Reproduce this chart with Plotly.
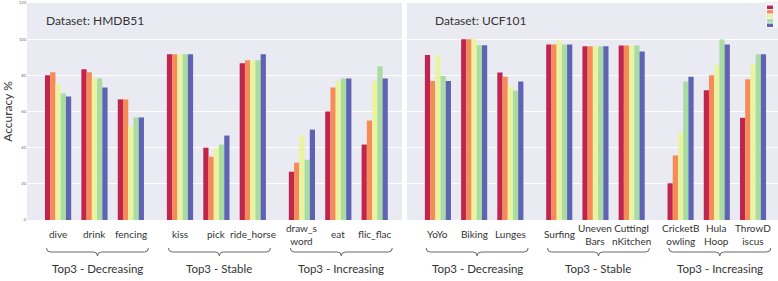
import plotly.graph_objects as go

# ---------------- data ----------------
series_names = ["Model A", "Model B", "Model C", "Model D", "Model E"]
colors = ["#c0254d", "#f68b57", "#eaf4a0", "#a9dca3", "#5e64b1"]

group_names = ["Top3 - Decreasing", "Top3 - Stable", "Top3 - Increasing"]

hmdb_categories = ["dive", "drink", "fencing", "kiss", "pick", "ride_horse",
                   "draw_sword", "eat", "flic_flac"]
hmdb_labels = ["dive", "drink", "fencing", "kiss", "pick", "ride_horse",
               "draw_s<br>word", "eat", "flic_flac"]
hmdb_s1 = [80.0, 83.3, 66.7, 91.7, 40.0, 86.7, 26.7, 60.0, 41.7]
hmdb_s2 = [81.7, 81.7, 66.7, 91.7, 35.0, 88.3, 31.7, 73.3, 55.0]
hmdb_s3 = [75.0, 78.3, 51.7, 91.7, 40.0, 88.3, 46.7, 76.7, 76.7]
hmdb_s4 = [70.0, 78.3, 56.7, 91.7, 41.7, 88.3, 33.3, 78.3, 85.0]
hmdb_s5 = [68.3, 73.3, 56.7, 91.7, 46.7, 91.7, 50.0, 78.3, 78.3]

ucf_categories = ["YoYo", "Biking", "Lunges", "Surfing", "UnevenBars",
                  "CuttingInKitchen", "CricketBowling", "HulaHoop", "ThrowDiscus"]
ucf_labels = ["YoYo", "Biking", "Lunges", "Surfing", "Uneven<br>Bars",
              "CuttingI<br>nKitchen", "CricketB<br>owling", "Hula<br>Hoop",
              "ThrowD<br>iscus"]
ucf_s1 = [91.2, 100.0, 81.6, 97.0, 96.1, 96.5, 20.3, 71.8, 56.5]
ucf_s2 = [76.8, 100.0, 79.2, 97.0, 96.1, 96.5, 35.7, 80.1, 77.9]
ucf_s3 = [91.2, 100.0, 74.0, 99.4, 96.1, 96.5, 48.4, 85.6, 86.2]
ucf_s4 = [79.6, 96.7, 71.5, 97.0, 96.1, 96.5, 76.6, 99.8, 91.7]
ucf_s5 = [76.8, 96.7, 76.6, 97.0, 96.1, 93.2, 79.2, 97.0, 91.7]

y_ticks = [0, 20, 40, 60, 80, 100, 120]

# ---------------- layout helpers ----------------
W, H = 778, 281
ML, MR, MT, MB = 27, 0, 3, 61
PW, PH = W - ML - MR, H - MT - MB
GROUP_SIZE = 3
GROUP_GAP = 0.35
FONT = "Lato, 'Open Sans', sans-serif"
TXT = "#333333"


def positions(n):
    return [i + (i // GROUP_SIZE) * GROUP_GAP for i in range(n)]


panels = [
    dict(cats=hmdb_categories, labels=hmdb_labels,
         vals=[hmdb_s1, hmdb_s2, hmdb_s3, hmdb_s4, hmdb_s5],
         title="Dataset: HMDB51", xa="x", ya="y",
         dom=[0.0, 375 / PW], rng=[-0.854, 9.45], title_px=95),
    dict(cats=ucf_categories, labels=ucf_labels,
         vals=[ucf_s1, ucf_s2, ucf_s3, ucf_s4, ucf_s5],
         title="Dataset: UCF101", xa="x2", ya="y2",
         dom=[380 / PW, 1.0], rng=[-0.854, 9.39], title_px=481),
]


def px_x(px):
    return (px - ML) / PW


def px_y(py):
    return (MT + PH - py) / PH


fig = go.Figure()
annotations = []
shapes = []

for p in panels:
    xs = positions(len(p["cats"]))
    for k, (name, col) in enumerate(zip(series_names, colors)):
        fig.add_trace(go.Bar(
            x=xs, y=p["vals"][k], name=name, marker=dict(color=col, line=dict(width=0)),
            xaxis=p["xa"], yaxis=p["ya"], showlegend=False,
            customdata=p["cats"], hovertemplate="%{customdata}: %{y}<extra>" + name + "</extra>",
        ))

    def to_paper(x, p=p):
        d0, d1 = p["dom"]
        r0, r1 = p["rng"]
        return d0 + (x - r0) / (r1 - r0) * (d1 - d0)

    # category labels
    for x, lab in zip(xs, p["labels"]):
        annotations.append(dict(
            x=to_paper(x), y=px_y(234), xref="paper", yref="paper", text=lab,
            showarrow=False, xanchor="center", yanchor="middle",
            font=dict(family=FONT, size=10, color=TXT), align="center"))

    # group braces + labels
    for g, gname in enumerate(group_names):
        gx = xs[g * GROUP_SIZE:(g + 1) * GROUP_SIZE]
        c = to_paper((gx[0] + gx[-1]) / 2) + 3 / PW
        half = 51 / PW
        xl, xr = c - half, c + half
        cr = 4 / PW
        yt, ym, yb = px_y(248), px_y(252), px_y(256)
        path = (f"M{xl},{yt} Q{xl},{ym} {xl + cr},{ym} L{c - cr},{ym} "
                f"Q{c},{ym} {c},{yb} Q{c},{ym} {c + cr},{ym} L{xr - cr},{ym} "
                f"Q{xr},{ym} {xr},{yt}")
        shapes.append(dict(type="path", path=path, xref="paper", yref="paper",
                           line=dict(color="#666666", width=1)))
        annotations.append(dict(
            x=c, y=px_y(268), xref="paper", yref="paper", text=gname,
            showarrow=False, xanchor="center", yanchor="middle",
            font=dict(family=FONT, size=11.5, color=TXT)))

    annotations.append(dict(
        x=px_x(p["title_px"]), y=px_y(20), xref="paper", yref="paper", text=p["title"],
        showarrow=False, xanchor="center", yanchor="middle",
        font=dict(family=FONT, size=12, color=TXT)))

# manual legend (partly cut off at the right edge, as in the reference)
shapes.append(dict(type="rect", xref="paper", yref="paper",
                   x0=px_x(765), x1=px_x(800), y0=px_y(29), y1=px_y(2),
                   fillcolor="#f3f3f8", line=dict(color="#dcdce6", width=0.5)))
for k, (name, col) in enumerate(zip(series_names, colors)):
    cy = 7.3 + 4.5 * k
    shapes.append(dict(type="rect", xref="paper", yref="paper",
                       x0=px_x(767), x1=px_x(773), y0=px_y(cy + 1.7), y1=px_y(cy - 1.7),
                       fillcolor=col, line=dict(width=0)))
    annotations.append(dict(x=px_x(775.5), y=px_y(cy), xref="paper", yref="paper",
                            text=name, showarrow=False, xanchor="left", yanchor="middle",
                            font=dict(family=FONT, size=4, color="#555555")))

common_y = dict(range=[0, 120], tickvals=y_ticks, showgrid=True, gridcolor="white",
                gridwidth=1, zeroline=False, showline=False, ticks="",
                domain=[0, 1])
fig.update_layout(
    width=W, height=H,
    margin=dict(l=ML, r=MR, t=MT, b=MB, autoexpand=False),
    paper_bgcolor="white", plot_bgcolor="#eaeaf2",
    barmode="group", bargap=0.28, bargroupgap=0,
    showlegend=False,
    font=dict(family=FONT, color=TXT),
    xaxis=dict(domain=panels[0]["dom"], range=panels[0]["rng"], showticklabels=False,
               showgrid=False, zeroline=False, ticks=""),
    xaxis2=dict(domain=panels[1]["dom"], range=panels[1]["rng"], showticklabels=False,
                showgrid=False, zeroline=False, ticks="", anchor="y2"),
    yaxis=dict(**common_y, tickfont=dict(size=4, color="#666666"),
               title=dict(text="Accuracy %", font=dict(size=12, color=TXT), standoff=6)),
    yaxis2=dict(**common_y, anchor="x2", showticklabels=False),
    annotations=annotations, shapes=shapes,
)

fig.write_html("out.html", config={"displayModeBar": False},
               post_script="document.body.style.margin='0';document.body.style.overflow='hidden';")
